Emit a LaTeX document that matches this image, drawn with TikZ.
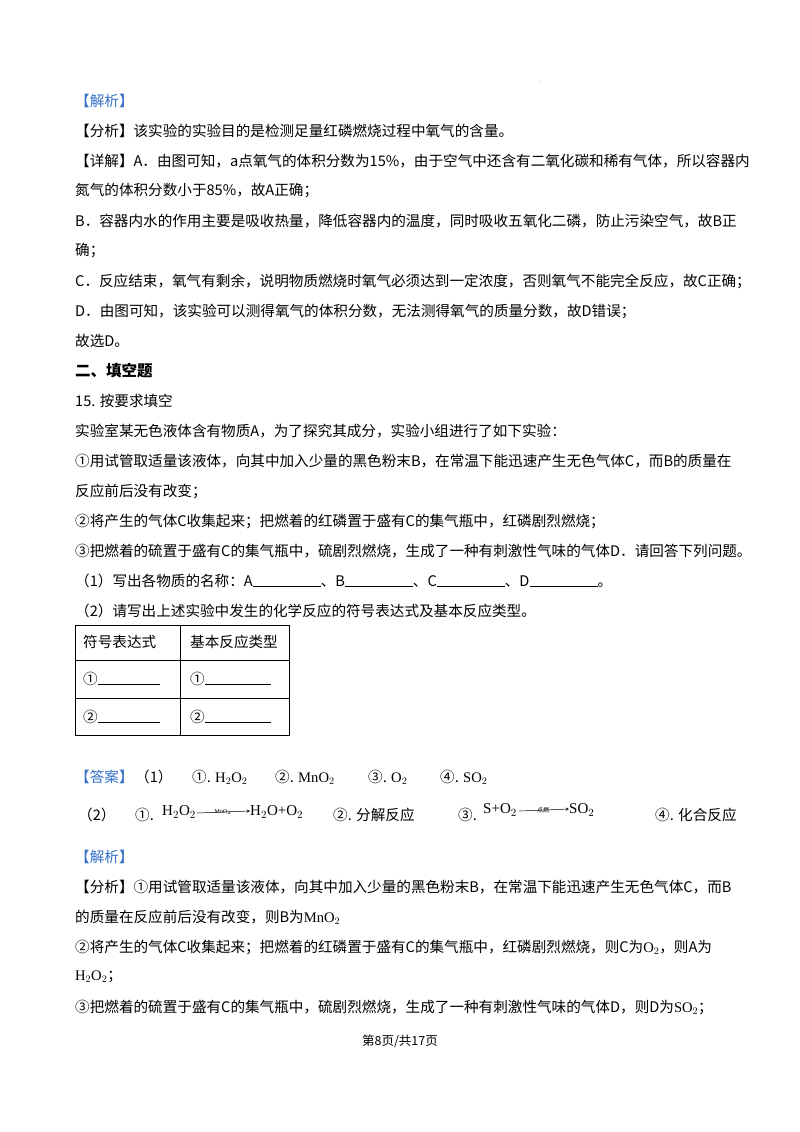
\documentclass[tikz,border=0pt]{standalone}
\usepackage{amsmath}
\usepackage{fontspec}
\usetikzlibrary{calc}
\setmainfont{Noto Sans CJK SC}
\newfontfamily\lat{Liberation Serif}
\newfontfamily\cjk{Noto Sans CJK SC}
\definecolor{hblue}{RGB}{50,110,200}
\newcommand{\blk}[1]{\rule{#1}{0.5pt}}
\begin{document}
\begin{tikzpicture}[x=1pt,y=-1pt,every node/.style={anchor=west,inner sep=0pt,font=\fontsize{14.6}{17}\selectfont}]
\useasboundingbox (0,0) rectangle (800,1132);
\node (d0) at (540,82) {\tiny .};
\node[text=hblue] (l1) at (75,101) {【解析】};
\node (l2) at (75,131) {【分析】该实验的实验目的是检测足量红磷燃烧过程中氧气的含量。};
\node (l3) at (75,161) {【详解】A．由图可知，a点氧气的体积分数为15\%，由于空气中还含有二氧化碳和稀有气体，所以容器内};
\node (l4) at (75,191) {氮气的体积分数小于85\%，故A正确；};
\node (l5) at (75,221) {B．容器内水的作用主要是吸收热量，降低容器内的温度，同时吸收五氧化二磷，防止污染空气，故B正};
\node (l6) at (75,251) {确；};
\node (l7) at (75,281) {C．反应结束，氧气有剩余，说明物质燃烧时氧气必须达到一定浓度，否则氧气不能完全反应，故C正确；};
\node (l8) at (75,311) {D．由图可知，该实验可以测得氧气的体积分数，无法测得氧气的质量分数，故D错误；};
\node (l9) at (75,341) {故选D。};
\node[font=\fontsize{15.5}{18}\selectfont\bfseries] (t) at (75,371) {二、填空题};
\node (q1) at (75,401) {15. 按要求填空};
\node (q2) at (75,431) {实验室某无色液体含有物质A，为了探究其成分，实验小组进行了如下实验：};
\node (q3) at (75,461) {①用试管取适量该液体，向其中加入少量的黑色粉末B，在常温下能迅速产生无色气体C，而B的质量在};
\node (q4) at (75,491) {反应前后没有改变；};
\node (q5) at (75,521) {②将产生的气体C收集起来；把燃着的红磷置于盛有C的集气瓶中，红磷剧烈燃烧；};
\node (q6) at (75,551) {③把燃着的硫置于盛有C的集气瓶中，硫剧烈燃烧，生成了一种有刺激性气味的气体D．请回答下列问题。};
\node (q7) at (75,581) {（1）写出各物质的名称：A\blk{68pt}、B\blk{68pt}、C\blk{68pt}、D\blk{68pt}。};
\node (q8) at (75,611) {（2）请写出上述实验中发生的化学反应的符号表达式及基本反应类型。};
\draw[line width=0.8pt] (75,625) rectangle (289,735);
\draw[line width=0.8pt] (180,625) -- (180,735) (75,660) -- (289,660) (75,698) -- (289,698);
\node (c1) at (83,642) {符号表达式};
\node (c2) at (190,642) {基本反应类型};
\node (c3) at (83,679) {①\blk{62pt}};
\node (c4) at (190,679) {①\blk{66pt}};
\node (c5) at (83,717) {②\blk{62pt}};
\node (c6) at (190,717) {②\blk{66pt}};
\node[text=hblue] (a0) at (75,777) {【答案】};
\node (a1) at (135,777) {（1）};
\node (a2) at (192,777) {①. {\lat H$_2$O$_2$}};
\node (a3) at (275,777) {②. {\lat MnO$_2$}};
\node (a4) at (368,777) {③. {\lat O$_2$}};
\node (a5) at (440,777) {④. {\lat SO$_2$}};
\node (b1) at (78,815) {（2）};
\node (b2) at (135,815) {①.};
\node (b3) at (162,812) {\lat\fontsize{15}{17}\selectfont H$_2$O$_2$};
\node (b3b) at (250,812) {\lat\fontsize{15}{17}\selectfont H$_2$O+O$_2$};
\draw[-stealth,line width=0.5pt] (b3.east) ++(1,1) -- ([yshift=1pt]b3b.west);
\node[anchor=south,font=\lat\fontsize{6}{7}\selectfont] (m1) at ([yshift=-3pt]$(b3.east)!0.5!(b3b.west)$) {MnO$_2$};
\node (b4) at (333,815) {②. 分解反应};
\node (b5) at (458,815) {③.};
\node (b6) at (483,810) {\lat\fontsize{15}{17}\selectfont S+O$_2$};
\node (b6b) at (569,810) {\lat\fontsize{15}{17}\selectfont SO$_2$};
\draw[-stealth,line width=0.5pt] (b6.east) ++(2,1) -- ([yshift=1pt]b6b.west);
\node[anchor=south,font=\cjk\fontsize{6}{7}\selectfont] (m2) at ([yshift=-3pt]$(b6.east)!0.5!(b6b.west)$) {点燃};
\node (b7) at (655,815) {④. 化合反应};
\node[text=hblue] (e1) at (75,857) {【解析】};
\node (e2) at (75,887) {【分析】①用试管取适量该液体，向其中加入少量的黑色粉末B，在常温下能迅速产生无色气体C，而B};
\node (e3) at (75,917) {的质量在反应前后没有改变，则B为{\lat MnO$_2$}};
\node (e4) at (75,947) {②将产生的气体C收集起来；把燃着的红磷置于盛有C的集气瓶中，红磷剧烈燃烧，则C为{\lat O$_2$}，则A为};
\node (e5) at (75,977) {{\lat H$_2$O$_2$}；};
\node (e6) at (75,1007) {③把燃着的硫置于盛有C的集气瓶中，硫剧烈燃烧，生成了一种有刺激性气味的气体D，则D为{\lat SO$_2$}；};
\node[anchor=center,font=\fontsize{12.5}{14}\selectfont] (f) at (400,1041) {第8页/共17页};
\end{tikzpicture}
\end{document}
